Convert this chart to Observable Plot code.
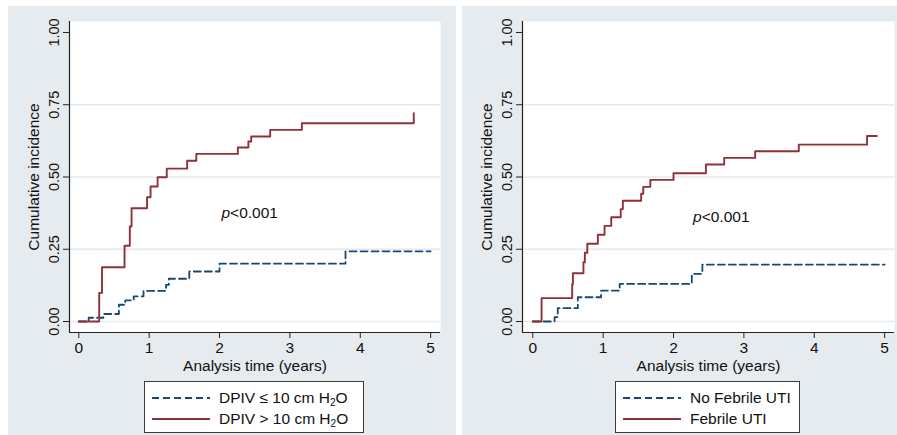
<!DOCTYPE html>
<html>
<head>
<meta charset="utf-8">
<script src="https://cdn.jsdelivr.net/npm/d3@7"></script>
<script src="https://cdn.jsdelivr.net/npm/@observablehq/plot@0.6"></script>
<style>
  html, body { margin: 0; padding: 0; background: #ffffff; }
  body { width: 897px; height: 435px; position: relative; overflow: hidden;
         font-family: "Liberation Sans", Arial, sans-serif; }
  .panel { position: absolute; top: 6px; height: 429px; background: #e6ebf0; }
  .panel svg { position: absolute; left: 0; top: 0; overflow: visible; }
  .legend { position: absolute; background: #ffffff; border: 1px solid #3a3a3a;
            box-sizing: border-box; font-size: 15.5px; color: #111; }
  .legend .row { position: absolute; left: 0; height: 20px; display: flex; align-items: center; white-space: nowrap; }
  .legend svg { position: static; margin-right: 9px; }
  sub { font-size: 10px; vertical-align: -3px; line-height: 0; }
</style>
</head>
<body>
<div id="left" class="panel" style="left:8px;width:448px"></div>
<div id="right" class="panel" style="left:462px;width:435px"></div>
<script>
// ---------- data ----------
const xTicks = [0, 1, 2, 3, 4, 5];
const yTicks = [0, 0.25, 0.5, 0.75, 1.0];
const gridValues = [0, 0.25, 0.5, 0.75];

// Left panel: DPIV groups
const leftLowT  = [0, 0.14, 0.35, 0.57, 0.66, 0.78, 0.92, 1.24, 1.28, 1.57, 2.00, 3.79, 5.00];
const leftLowV  = [0, 0.013, 0.026, 0.058, 0.073, 0.087, 0.106, 0.127, 0.148, 0.173, 0.200, 0.243, 0.243];
const leftHighT = [0, 0.29, 0.33, 0.65, 0.725, 0.75, 0.97, 1.02, 1.12, 1.25, 1.54, 1.67, 2.26, 2.41, 2.45, 2.72, 3.17, 4.76];
const leftHighV = [0, 0.099, 0.188, 0.262, 0.329, 0.392, 0.430, 0.467, 0.499, 0.529, 0.556, 0.580, 0.602, 0.623, 0.640, 0.663, 0.686, 0.721];

// Right panel: febrile UTI groups
const rightNoT  = [0, 0.31, 0.355, 0.64, 0.97, 1.235, 2.26, 2.41, 5.00];
const rightNoV  = [0, 0.015, 0.046, 0.084, 0.107, 0.130, 0.165, 0.197, 0.197];
const rightYesT = [0, 0.125, 0.56, 0.57, 0.72, 0.74, 0.775, 0.925, 1.02, 1.115, 1.25, 1.28, 1.54, 1.57, 1.67, 2.00, 2.46, 2.72, 3.16, 3.78, 4.75, 4.89];
const rightYesV = [0, 0.081, 0.128, 0.167, 0.205, 0.238, 0.269, 0.300, 0.331, 0.361, 0.389, 0.418, 0.442, 0.466, 0.490, 0.513, 0.543, 0.566, 0.589, 0.612, 0.642, 0.642];

const leftLabels  = ["DPIV \u2264 10 cm H<sub>2</sub>O", "DPIV &gt; 10 cm H<sub>2</sub>O"];
const rightLabels = ["No Febrile UTI", "Febrile UTI"];
const pText = ["p", "<0.001"];
const leftP  = [{x: 2.15, y: 0.377}];
const rightP = [{x: 2.40, y: 0.362}];

const navy = "#1a476f", maroon = "#8e3139";
const fontFam = "'Liberation Sans', Arial, sans-serif";

function pts(T, V) { return T.map((t, i) => ({t, v: V[i]})); }

function panel(opts) {
  const {width, mLeft, mRight, xDomain, low, high, pAt} = opts;
  const yDomain = [-0.038, 1.038];
  return Plot.plot({
    width, height: 429,
    marginLeft: mLeft, marginRight: mRight, marginTop: 15, marginBottom: 103,
    style: {background: "transparent", fontFamily: fontFam, color: "#111", overflow: "visible"},
    x: {domain: xDomain},
    y: {domain: yDomain},
    marks: [
      Plot.frame({fill: "#ffffff", stroke: null}),
      Plot.ruleY(gridValues, {stroke: "#e4eaee", strokeWidth: 1.6}),
      Plot.line(low, {x: "t", y: "v", curve: "step-after", stroke: navy, strokeWidth: 1.8, strokeDasharray: "7,4"}),
      Plot.line(high, {x: "t", y: "v", curve: "step-after", stroke: maroon, strokeWidth: 1.9}),
      Plot.text(pAt, {x: "x", y: "y", text: () => pText[0], textAnchor: "end", fontStyle: "italic", fontSize: 15.5, fill: "#111"}),
      Plot.text(pAt, {x: "x", y: "y", text: () => pText[1], textAnchor: "start", fontSize: 15.5, fill: "#111"}),
      Plot.ruleX([xDomain[0]], {stroke: "#222", strokeWidth: 1.2}),
      Plot.ruleY([yDomain[0]], {stroke: "#222", strokeWidth: 1.2}),
      Plot.axisX({ticks: xTicks, tickFormat: d3.format("d"), tickSize: 6, tickPadding: 3, fontSize: 15.5, stroke: "#222",
                  label: null}),
      Plot.axisX({ticks: [], tickSize: 0, fontSize: 15.5,
                  label: "Analysis time (years)", labelAnchor: "center", labelArrow: "none", labelOffset: 38}),
      Plot.axisY({ticks: yTicks, tickFormat: d3.format(".2f"), tickSize: 6, tickPadding: 5, tickRotate: -90,
                  fontSize: 14.5, stroke: "#222", label: null}),
      Plot.axisY({ticks: [], tickSize: 0, fontSize: 15.5, label: "Cumulative incidence",
                  labelAnchor: "center", labelArrow: "none", labelOffset: 42})
    ]
  });
}

function lineSample(dashed, color) {
  return `<svg width="58" height="6"><line x1="0" y1="3" x2="58" y2="3" stroke="${color}" stroke-width="1.8" ${dashed ? 'stroke-dasharray="7,4"' : ''}/></svg>`;
}

function legend(container, left, width, labels) {
  const div = document.createElement("div");
  div.className = "legend";
  div.style.left = left + "px";
  div.style.top = "375px";
  div.style.width = width + "px";
  div.style.height = "52px";
  div.innerHTML =
    `<div class="row" style="top:6px;left:7px">${lineSample(true, navy)}<span>${labels[0]}</span></div>` +
    `<div class="row" style="top:27px;left:7px">${lineSample(false, maroon)}<span>${labels[1]}</span></div>`;
  container.appendChild(div);
}

const leftEl = document.getElementById("left");
leftEl.appendChild(panel({width: 448, mLeft: 61, mRight: 16, xDomain: [-0.132, 5.14],
  low: pts(leftLowT, leftLowV), high: pts(leftHighT, leftHighV), pAt: leftP}));
legend(leftEl, 136, 220, leftLabels);

const rightEl = document.getElementById("right");
rightEl.appendChild(panel({width: 435, mLeft: 60, mRight: 3, xDomain: [-0.146, 5.14],
  low: pts(rightNoT, rightNoV), high: pts(rightYesT, rightYesV), pAt: rightP}));
legend(rightEl, 153, 185, rightLabels);
</script>
</body>
</html>
